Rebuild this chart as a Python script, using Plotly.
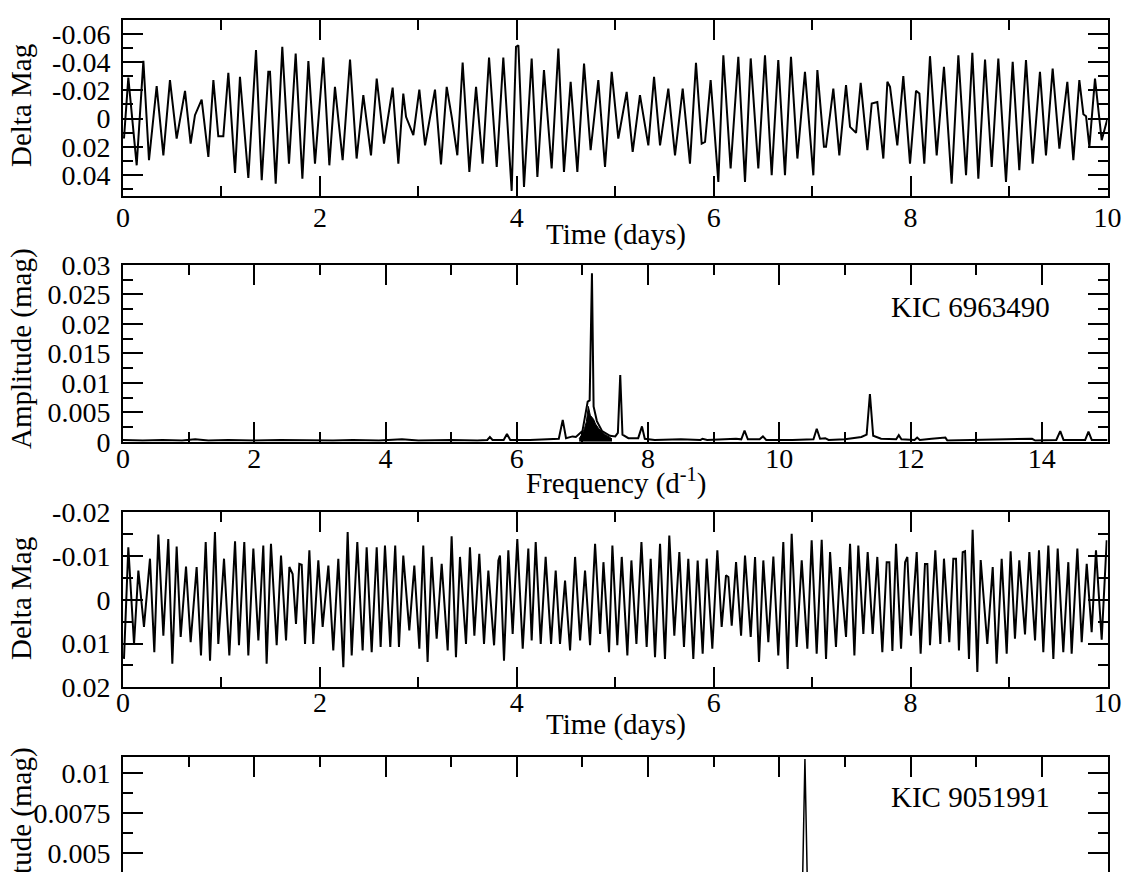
import plotly.graph_objects as go

# ---- light curve, KIC 6963490 (time in days, delta mag) ----
LC1_T = [
    0.010, 0.054, 0.139, 0.207, 0.264, 0.342, 0.410, 0.477, 0.545, 0.630,
    0.687, 0.731, 0.799, 0.867, 0.918, 0.968, 1.019, 1.070, 1.138, 1.188,
    1.273, 1.351, 1.409, 1.476, 1.493, 1.551, 1.618, 1.686, 1.754, 1.822,
    1.883, 1.950, 2.035, 2.096, 2.153, 2.231, 2.306, 2.373, 2.441, 2.519,
    2.577, 2.651, 2.739, 2.797, 2.847, 2.875, 2.949, 3.010, 3.068, 3.169,
    3.230, 3.288, 3.339, 3.396, 3.450, 3.518, 3.586, 3.653, 3.718, 3.796,
    3.863, 3.948, 3.992, 4.016, 4.073, 4.151, 4.209, 4.276, 4.354, 4.422,
    4.479, 4.547, 4.615, 4.683, 4.750, 4.828, 4.896, 4.964, 5.031, 5.116,
    5.177, 5.251, 5.336, 5.394, 5.455, 5.539, 5.607, 5.685, 5.759, 5.820,
    5.878, 5.912, 5.969, 6.047, 6.098, 6.172, 6.250, 6.318, 6.376, 6.453,
    6.521, 6.589, 6.656, 6.724, 6.785, 6.850, 6.927, 7.012, 7.053, 7.120,
    7.141, 7.215, 7.276, 7.344, 7.385, 7.446, 7.493, 7.561, 7.605, 7.662,
    7.723, 7.764, 7.791, 7.865, 7.926, 7.994, 8.055, 8.089, 8.139, 8.197,
    8.265, 8.339, 8.417, 8.485, 8.563, 8.627, 8.688, 8.756, 8.824, 8.891,
    8.969, 9.037, 9.104, 9.172, 9.240, 9.314, 9.375, 9.443, 9.511, 9.592,
    9.653, 9.714, 9.755, 9.782, 9.816, 9.873, 9.941, 10.000,
]
LC1_MAG = [
    0.0142, -0.0291, 0.0332, -0.0410, 0.0296, -0.0230, 0.0261, -0.0273, 0.0142, -0.0197,
    0.0178, -0.0024, -0.0135, 0.0273, -0.0273, 0.0126, 0.0126, -0.0325, 0.0386, -0.0296,
    0.0422, -0.0486, 0.0438, -0.0332, -0.0332, 0.0462, -0.0509, 0.0320, -0.0462, 0.0427,
    -0.0408, 0.0320, -0.0434, 0.0332, -0.0225, 0.0296, -0.0419, 0.0284, -0.0166, 0.0261,
    -0.0284, 0.0178, -0.0220, 0.0320, -0.0178, -0.0012, 0.0118, -0.0206, 0.0190, -0.0206,
    0.0325, -0.0225, -0.0012, 0.0261, -0.0398, 0.0379, -0.0225, 0.0320, -0.0434, 0.0344,
    -0.0434, 0.0514, -0.0509, -0.0521, 0.0486, -0.0427, 0.0415, -0.0344, 0.0355, -0.0498,
    0.0379, -0.0261, 0.0379, -0.0391, 0.0225, -0.0273, 0.0344, -0.0332, 0.0142, -0.0190,
    0.0237, -0.0166, 0.0190, -0.0296, 0.0190, -0.0213, 0.0261, -0.0213, 0.0320, -0.0396,
    0.0178, 0.0166, -0.0273, 0.0450, -0.0450, 0.0355, -0.0438, 0.0450, -0.0427, 0.0355,
    -0.0450, 0.0403, -0.0415, 0.0403, -0.0438, 0.0284, -0.0332, 0.0403, -0.0344, 0.0201,
    0.0201, -0.0213, 0.0261, -0.0237, 0.0059, 0.0102, -0.0254, 0.0225, -0.0107, -0.0118,
    0.0284, -0.0261, -0.0225, 0.0190, -0.0301, 0.0320, -0.0197, -0.0178, 0.0320, -0.0443,
    0.0261, -0.0367, 0.0462, -0.0450, 0.0403, -0.0467, 0.0427, -0.0419, 0.0344, -0.0427,
    0.0450, -0.0403, 0.0367, -0.0415, 0.0320, -0.0332, 0.0261, -0.0355, 0.0213, -0.0261,
    0.0296, -0.0273, -0.0031, -0.0017, 0.0201, -0.0284, 0.0154, 0.0000,
]

# ---- amplitude spectrum, KIC 6963490 (frequency in 1/d, amplitude in mag) ----
SP1_F = [
    0.0, 0.3, 0.6, 0.9, 1.1, 1.3, 1.6, 2.0, 2.4, 2.8,
    3.2, 3.5, 3.9, 4.25, 4.5, 5.0, 5.4, 5.55, 5.59, 5.63,
    5.8, 5.85, 5.9, 6.2, 6.5, 6.64, 6.70, 6.75, 6.85, 6.90,
    7.00, 7.08, 7.11, 7.145, 7.17, 7.22, 7.30, 7.42, 7.50, 7.54,
    7.576, 7.61, 7.70, 7.85, 7.907, 7.95, 8.1, 8.5, 8.8, 8.83,
    8.9, 9.34, 9.42, 9.47, 9.52, 9.70, 9.75, 9.80, 10.2, 10.52,
    10.57, 10.62, 10.70, 10.75, 11.0, 11.25, 11.33, 11.38, 11.43, 11.55,
    11.78, 11.82, 11.86, 12.06, 12.10, 12.14, 12.32, 12.53, 12.56, 13.0,
    13.5, 13.85, 13.9, 14.22, 14.28, 14.33, 14.5, 14.66, 14.71, 14.76,
    15.0,
]
SP1_A = [
    0.0003, 0.0002, 0.0003, 0.0002, 0.0004, 0.0002, 0.0003, 0.0002, 0.0003, 0.0002,
    0.0002, 0.0003, 0.0002, 0.0004, 0.0002, 0.0003, 0.0002, 0.0003, 0.0008, 0.0003,
    0.0003, 0.0013, 0.0003, 0.0003, 0.0004, 0.0005, 0.0037, 0.0006, 0.0009, 0.0008,
    0.0018, 0.0068, 0.0070, 0.0286, 0.0060, 0.0035, 0.0018, 0.0010, 0.0009, 0.0015,
    0.0113, 0.0012, 0.0006, 0.0006, 0.0026, 0.0005, 0.0003, 0.0004, 0.0003, 0.0005,
    0.0003, 0.0005, 0.0004, 0.0019, 0.0004, 0.0004, 0.0009, 0.0003, 0.0003, 0.0004,
    0.0022, 0.0005, 0.0006, 0.0003, 0.0004, 0.0008, 0.0012, 0.0081, 0.0010, 0.0005,
    0.0004, 0.0011, 0.0004, 0.0003, 0.0007, 0.0003, 0.0005, 0.0007, 0.0002, 0.0003,
    0.0003, 0.0005, 0.0002, 0.0003, 0.0018, 0.0003, 0.0003, 0.0003, 0.0017, 0.0003,
    0.0003,
]
# dense dark hump around the main peak
HUMP_F = [6.95, 7.00, 7.03, 7.06, 7.09, 7.12, 7.17, 7.20, 7.25, 7.30, 7.35, 7.40, 7.45]
HUMP_A = [0.0005, 0.0014, 0.0022, 0.0034, 0.0060, 0.0045, 0.0038, 0.0030, 0.0022, 0.0016, 0.0012, 0.0009, 0.0005]

# ---- light curve, KIC 9051991 ----
LC2_T = [
    0.010, 0.054, 0.112, 0.156, 0.213, 0.274, 0.318, 0.359, 0.410, 0.460,
    0.501, 0.545, 0.586, 0.640, 0.687, 0.748, 0.792, 0.840, 0.884, 0.934,
    0.968, 1.026, 1.080, 1.138, 1.178, 1.232, 1.273, 1.324, 1.375, 1.425,
    1.459, 1.503, 1.561, 1.605, 1.656, 1.690, 1.723, 1.757, 1.791, 1.815,
    1.849, 1.893, 1.933, 1.984, 2.028, 2.086, 2.136, 2.187, 2.238, 2.282,
    2.323, 2.380, 2.434, 2.475, 2.526, 2.577, 2.617, 2.661, 2.715, 2.765,
    2.803, 2.847, 2.908, 2.959, 3.010, 3.050, 3.094, 3.135, 3.186, 3.237,
    3.298, 3.338, 3.382, 3.423, 3.484, 3.524, 3.569, 3.619, 3.667, 3.711,
    3.769, 3.813, 3.829, 3.870, 3.914, 3.958, 4.005, 4.060, 4.117, 4.151,
    4.192, 4.243, 4.293, 4.348, 4.395, 4.439, 4.490, 4.541, 4.592, 4.643,
    4.693, 4.744, 4.795, 4.846, 4.880, 4.937, 4.971, 5.021, 5.066, 5.123,
    5.164, 5.215, 5.266, 5.319, 5.360, 5.404, 5.455, 5.505, 5.549, 5.600,
    5.651, 5.698, 5.742, 5.793, 5.837, 5.888, 5.929, 5.986, 6.037, 6.081,
    6.125, 6.149, 6.183, 6.227, 6.278, 6.318, 6.376, 6.420, 6.460, 6.504,
    6.555, 6.606, 6.656, 6.707, 6.751, 6.792, 6.843, 6.894, 6.951, 6.995,
    7.046, 7.097, 7.141, 7.182, 7.242, 7.283, 7.344, 7.385, 7.429, 7.469,
    7.520, 7.564, 7.615, 7.662, 7.713, 7.757, 7.784, 7.815, 7.852, 7.903,
    7.944, 7.967, 8.004, 8.062, 8.102, 8.146, 8.170, 8.197, 8.251, 8.302,
    8.339, 8.393, 8.434, 8.461, 8.491, 8.529, 8.553, 8.593, 8.630, 8.678,
    8.712, 8.779, 8.834, 8.874, 8.925, 8.976, 9.016, 9.060, 9.104, 9.162,
    9.206, 9.264, 9.304, 9.348, 9.399, 9.450, 9.494, 9.551, 9.602, 9.636,
    9.694, 9.738, 9.789, 9.839, 9.883, 9.941, 9.992,
]
LC2_MAG = [
    0.0135, -0.0120, 0.0101, -0.0067, 0.0062, -0.0094, 0.0120, -0.0149, 0.0082, -0.0139,
    0.0146, -0.0122, 0.0085, -0.0076, 0.0097, -0.0075, 0.0127, -0.0132, 0.0139, -0.0155,
    0.0101, -0.0094, 0.0127, -0.0134, 0.0104, -0.0132, 0.0127, -0.0117, 0.0093, -0.0124,
    0.0146, -0.0128, 0.0104, -0.0101, 0.0093, -0.0075, -0.0059, 0.0055, -0.0082, -0.0080,
    0.0101, -0.0113, 0.0101, -0.0090, 0.0062, -0.0078, 0.0116, -0.0094, 0.0154, -0.0155,
    0.0127, -0.0132, 0.0116, -0.0120, 0.0120, -0.0120, 0.0108, -0.0124, 0.0108, -0.0124,
    0.0108, -0.0101, 0.0070, -0.0078, 0.0112, -0.0124, 0.0142, -0.0098, 0.0089, -0.0082,
    0.0116, -0.0145, 0.0131, -0.0098, 0.0101, -0.0120, 0.0082, -0.0105, 0.0101, -0.0067,
    0.0104, -0.0090, -0.0101, 0.0139, -0.0113, 0.0078, -0.0139, 0.0112, -0.0117, 0.0093,
    -0.0132, 0.0101, -0.0098, 0.0101, -0.0067, 0.0101, -0.0044, 0.0116, -0.0098, 0.0093,
    -0.0067, 0.0104, -0.0128, 0.0078, -0.0086, 0.0120, -0.0124, 0.0104, -0.0098, 0.0127,
    -0.0090, 0.0101, -0.0132, 0.0108, -0.0094, 0.0131, -0.0128, 0.0135, -0.0147, 0.0082,
    -0.0109, 0.0108, -0.0094, 0.0135, -0.0090, 0.0123, -0.0094, 0.0112, -0.0113, 0.0062,
    -0.0056, -0.0052, 0.0059, -0.0086, 0.0082, -0.0101, 0.0085, -0.0098, 0.0142, -0.0090,
    0.0097, -0.0099, 0.0127, -0.0132, 0.0158, -0.0151, 0.0108, -0.0090, 0.0112, -0.0136,
    0.0123, -0.0137, 0.0135, -0.0109, 0.0108, -0.0075, 0.0085, -0.0128, 0.0127, -0.0124,
    0.0078, -0.0109, 0.0078, -0.0098, 0.0120, -0.0086, -0.0086, 0.0117, -0.0128, 0.0112,
    -0.0086, -0.0098, 0.0082, -0.0109, 0.0123, -0.0082, -0.0082, 0.0104, -0.0113, 0.0101,
    -0.0094, 0.0097, -0.0094, -0.0094, 0.0116, -0.0109, -0.0111, 0.0135, -0.0160, 0.0165,
    -0.0091, 0.0101, -0.0075, 0.0146, -0.0094, 0.0123, -0.0111, 0.0089, -0.0090, 0.0079,
    -0.0109, 0.0093, -0.0113, 0.0120, -0.0124, 0.0135, -0.0117, 0.0120, -0.0086, 0.0123,
    -0.0117, 0.0097, -0.0082, 0.0074, -0.0113, 0.0091, -0.0136,
]

# ---- amplitude spectrum, KIC 9051991 (only the top of it is in view) ----
SP2_F = [0.0, 3.0, 6.0, 9.0, 10.34, 10.39, 10.44, 12.0, 15.0]
SP2_A = [0.0002, 0.0003, 0.0002, 0.0003, 0.0003, 0.0109, 0.0003, 0.0002, 0.0002]

# ---- ticks ----
T_TICKS = [0, 2, 4, 6, 8, 10]
T_MINOR = [1, 3, 5, 7, 9]
F_TICKS = [0, 2, 4, 6, 8, 10, 12, 14]
F_MINOR = [1, 3, 5, 7, 9, 11, 13, 15]
MAG1_TICKS = [-0.06, -0.04, -0.02, 0, 0.02, 0.04]
MAG1_TEXT = ["-0.06", "-0.04", "-0.02", "0", "0.02", "0.04"]
MAG1_MINOR = [-0.07, -0.05, -0.03, -0.01, 0.01, 0.03, 0.05]
AMP1_TICKS = [0, 0.005, 0.01, 0.015, 0.02, 0.025, 0.03]
AMP1_TEXT = ["0", "0.005", "0.01", "0.015", "0.02", "0.025", "0.03"]
AMP1_MINOR = [0.0025, 0.0075, 0.0125, 0.0175, 0.0225, 0.0275]
MAG2_TICKS = [-0.02, -0.01, 0, 0.01, 0.02]
MAG2_TEXT = ["-0.02", "-0.01", "0", "0.01", "0.02"]
MAG2_MINOR = [-0.015, -0.005, 0.005, 0.015]
AMP2_TICKS = [0.0025, 0.005, 0.0075, 0.01]
AMP2_TEXT = ["0.0025", "0.005", "0.0075", "0.01"]
AMP2_MINOR = [0.00375, 0.00625, 0.00875, 0.01125]

W, H = 1128, 872
FONT = "Liberation Serif, Times New Roman, serif"


def px(x):
    return x / W


def py(y):
    return 1 - y / H


def axis(tickvals, ticktext, minor, **kw):
    a = dict(
        showline=True, linewidth=2, linecolor="black", mirror="ticks",
        ticks="inside", ticklen=20, tickwidth=2, tickcolor="black",
        tickmode="array", tickvals=tickvals, ticktext=ticktext,
        showgrid=False, zeroline=False, automargin=False,
        tickfont=dict(family=FONT, size=28, color="black"),
        minor=dict(tickmode="array", tickvals=minor, ticks="inside", ticklen=10,
                   tickwidth=2, tickcolor="black", showgrid=False),
    )
    a.update(kw)
    return a


def line(x, y, ax, width=2):
    return go.Scatter(x=x, y=y, xaxis=ax[0], yaxis=ax[1], mode="lines",
                      line=dict(color="black", width=width), showlegend=False,
                      hoverinfo="skip")


fig = go.Figure()
fig.add_trace(line(LC1_T, LC1_MAG, ("x", "y")))
fig.add_trace(go.Scatter(x=HUMP_F, y=HUMP_A, xaxis="x2", yaxis="y2", mode="lines",
                         fill="tozeroy", fillcolor="black", line=dict(color="black", width=1),
                         showlegend=False, hoverinfo="skip"))
fig.add_trace(line(SP1_F, SP1_A, ("x2", "y2")))
fig.add_trace(line(LC2_T, LC2_MAG, ("x3", "y3")))
fig.add_trace(line(SP2_F, SP2_A, ("x4", "y4"), width=1.5))

XD = [px(123), px(1107.5)]
T_TEXT = [str(v) for v in T_TICKS]
F_TEXT = [str(v) for v in F_TICKS]

fig.update_layout(
    template="none",
    width=W, height=H,
    margin=dict(l=0, r=0, t=0, b=0, pad=0),
    paper_bgcolor="white", plot_bgcolor="white",
    font=dict(family=FONT, color="black"),
    xaxis=axis(T_TICKS, T_TEXT, T_MINOR, domain=XD, anchor="y", range=[0, 10],
               ticklabelstandoff=-5),
    yaxis=axis(MAG1_TICKS, MAG1_TEXT, MAG1_MINOR, domain=[py(196), py(20)], anchor="x",
               range=[0.055, -0.07], ticklabelstandoff=5),
    xaxis2=axis(F_TICKS, F_TEXT, F_MINOR, domain=XD, anchor="y2", range=[0, 15],
                ticklabelstandoff=-9),
    yaxis2=axis(AMP1_TICKS, AMP1_TEXT, AMP1_MINOR, domain=[py(441.7), py(265)], anchor="x2",
                range=[0, 0.03], ticklabelstandoff=5),
    xaxis3=axis(T_TICKS, T_TEXT, T_MINOR, domain=XD, anchor="y3", range=[0, 10],
                ticklabelstandoff=-11),
    yaxis3=axis(MAG2_TICKS, MAG2_TEXT, MAG2_MINOR, domain=[py(687.3), py(512.3)], anchor="x3",
                range=[0.02, -0.02], ticklabelstandoff=5),
    xaxis4=axis(F_TICKS, F_TEXT, F_MINOR, domain=XD, anchor="y4", range=[0, 15],
                side="top", mirror=False, showticklabels=False),
    yaxis4=axis(AMP2_TICKS, AMP2_TEXT, AMP2_MINOR, domain=[0, py(757.3)], anchor="x4",
                range=[0.011 - (H - 757.3) / 16000, 0.011], ticklabelstandoff=5),
)

TITLE = dict(family=FONT, size=29, color="black")
notes = [
    ("Delta Mag", 21, 106, -90),
    ("Time (days)", 616, 234, 0),
    ("Amplitude (mag)", 21, 349, -90),
    ("Frequency (d<sup>-1</sup>)", 616, 482, 0),
    ("KIC 6963490", 970, 307, 0),
    ("Delta Mag", 21, 599, -90),
    ("Time (days)", 616, 724, 0),
    ("Amplitude (mag)", 21, 848, -90),
    ("KIC 9051991", 970, 797, 0),
]
for text, x, y, ang in notes:
    fig.add_annotation(text=text, x=px(x), y=py(y), xref="paper", yref="paper",
                       xanchor="center", yanchor="middle", textangle=ang,
                       showarrow=False, font=TITLE)

# the page's default body margin would shift the fixed-size figure
fig.write_html("out.html", config={"displayModeBar": False},
               post_script="document.body.style.margin = '0';")
